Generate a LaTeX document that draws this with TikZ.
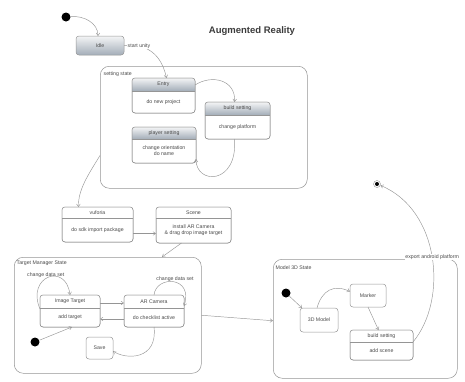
\documentclass[tikz,border=0pt]{standalone}
\usepackage{fontspec}
\setmainfont{Liberation Sans}
\usetikzlibrary{arrows.meta,calc}

\definecolor{edge}{HTML}{959595}
\definecolor{ink}{HTML}{4A4A4A}
\definecolor{hdtop}{HTML}{F4F5F6}
\definecolor{hdbot}{HTML}{A3ADB8}

\tikzset{
  x=1pt, y=-1pt,
  lbl/.style={font=\fontsize{5.2}{6}\selectfont, text=ink, inner sep=0.5pt},
  frame/.style={draw=edge, line width=0.5pt, rounded corners=9pt},
  stbox/.style={draw=edge, line width=0.5pt, rounded corners=3pt, inner sep=0pt, outer sep=0pt},
  arr/.style={draw=edge, line width=0.45pt, -{Straight Barb[length=2.6pt,width=3.6pt]}},
  plain/.style={draw=edge, line width=0.45pt},
  initst/.style={circle, fill=black, minimum size=9pt, inner sep=0pt},
  finalst/.style={circle, draw=edge, fill=white, minimum size=7pt, inner sep=0pt,
    path picture={\fill[black] (path picture bounding box.center) circle (2pt);}},
  hdshade/.style={top color=hdtop, bottom color=hdbot},
  hdplain/.style={fill=white},
}

% state box with a header compartment:
% #1 name, #2 left, #3 top, #4 width, #5 height, #6 header height,
% #7 header text, #8 body text, #9 header fill style
\newcommand{\compbox}[9]{%
  \node[stbox, minimum width=#4pt, minimum height=#5pt, anchor=north west, fill=white] (#1) at (#2,#3) {};
  \begin{scope}
    \clip[rounded corners=3pt] (#1.north west) rectangle (#1.south east);
    \path[#9] (#1.north west) rectangle ([yshift=-#6pt]#1.north east);
  \end{scope}
  \draw[plain] ([yshift=-#6pt]#1.north west) -- ([yshift=-#6pt]#1.north east);
  \draw[stbox] (#1.north west) rectangle (#1.south east);
  \node[lbl] (#1-head) at ([yshift=-#6pt/2]#1.north) {#7};
  \node[lbl, align=center] (#1-body) at ($([yshift=-#6pt]#1.north)!0.5!(#1.south)$) {#8};
}

\begin{document}
\begin{tikzpicture}
\useasboundingbox (0,0) rectangle (465,381);

% title
\node[font=\bfseries\fontsize{9.5}{11}\selectfont, text=ink!80!black] (title) at (252,31) {Augmented Reality};

% start and idle
\node[initst] (init1) at (66,17) {};
\node[stbox, rounded corners=3pt, minimum width=48pt, minimum height=19pt, anchor=north west,
      top color=hdtop, bottom color=hdbot] (idle) at (76,36) {};
\node[lbl] at (idle.center) {Idle};
\draw[arr] (init1) to[out=5,in=90] ([xshift=-2pt]idle.north);

% setting state
\node[frame, minimum width=207pt, minimum height=122pt, anchor=north west, inner sep=0pt] (setting) at (100,66) {};
\node[lbl, anchor=west] (settinglbl) at (103,74) {setting state};
\compbox{entry}{132}{78}{63}{35}{13}{Entry}{do new project}{hdshade}
\compbox{build}{205}{102}{65}{37}{13}{build setting}{change platform}{hdshade}
\compbox{player}{132}{127}{64}{36}{12}{player setting}{change orientation\\do name}{hdshade}

\draw[arr] (idle.east) .. controls (140,44) and (160,48) .. ([xshift=3pt]entry.north)
  node[lbl, fill=white, pos=0.3] {start unity};
\draw[arr] ([yshift=-7pt]entry.north east) .. controls (212,74) and (236,80) .. ([xshift=-3pt]build.north);
\draw[arr] ([xshift=-3pt]build.south) .. controls (238,185) and (196,185) .. ([yshift=4pt]player.south east);

% vuforia and scene
\compbox{vuforia}{62}{207}{71}{35}{11}{vuforia}{do sdk import package}{hdplain}
\compbox{scene}{156}{207}{75}{36}{11}{Scene}{install AR Camera\\\& drag drop image target}{hdplain}
\draw[arr] ([yshift=33pt]setting.south west) .. controls (88,175) and (78,190) .. ([xshift=-19pt]vuforia.north);
\draw[arr] ([yshift=-9pt]vuforia.east) -- ([yshift=-9pt]vuforia.east -| scene.west);

% target manager state
\node[frame, minimum width=187pt, minimum height=116pt, anchor=north west, inner sep=0pt] (tm) at (14,257) {};
\node[lbl, anchor=west] (tmlbl) at (16,263) {Target Manager State};
\draw[arr] ([xshift=-12pt]scene.south) -- ([xshift=148pt]tm.north west);
\compbox{imgt}{40}{295}{60}{32}{13}{Image Target}{add target}{hdplain}
\compbox{arcam}{124}{295}{60}{32}{13}{AR Camera}{do checklist active}{hdplain}
\draw[arr] ([yshift=-8pt]imgt.north east) -- ([yshift=-8pt]imgt.north east -| arcam.west);
\draw[arr] ([yshift=-24pt]arcam.north west) -- ([yshift=-24pt]arcam.north west -| imgt.east);
\draw[arr] ([yshift=-14pt]imgt.north west) .. controls (26,276) and (66,262) .. (imgt.north)
  node[lbl, pos=0.45, above] {change data set};
\draw[arr] (arcam.north) .. controls (156,275) and (194,276) .. ([yshift=-11pt]arcam.north east);
\node[lbl] (arloop) at (175,279) {change data set};
\node[initst] (init2) at (35,342) {};
\draw[arr] (init2) -- ([xshift=2pt]imgt.south);
\node[stbox, minimum width=27pt, minimum height=22pt, anchor=north west] (save) at (86,337) {};
\node[lbl] at (save.center) {Save};
\draw[arr] (arcam.south) .. controls (158,360) and (126,360) .. ([yshift=-3pt]save.east);

% model 3D state
\node[frame, minimum width=184pt, minimum height=119pt, anchor=north west, inner sep=0pt] (m3) at (273,259) {};
\node[lbl, anchor=west] (m3lbl) at (275,268) {Model 3D State};
\draw[arr] (tm.east) -- ([yshift=-2pt]m3.west);
\node[initst] (init3) at (286,293) {};
\node[stbox, minimum width=38pt, minimum height=24pt, anchor=north west] (model) at (300,308) {};
\node[lbl] at (model.center) {3D Model};
\node[stbox, minimum width=36pt, minimum height=23pt, anchor=north west] (marker) at (350,284) {};
\node[lbl] at (marker.center) {Marker};
\compbox{build2}{350}{330}{63}{30}{12}{build setting}{add scene}{hdplain}
\draw[arr] (init3) -- ([xshift=2pt]model.north west);
\draw[arr] ([xshift=-2pt]model.north) .. controls (322,290) and (334,284) .. ([yshift=4pt]marker.west);
\draw[arr] (marker.south) -- ([xshift=-3pt]build2.north);

% final state
\node[finalst] (final) at (377,184) {};
\draw[arr] ([yshift=-12pt]build2.north east) .. controls (448,300) and (440,210) .. (final)
  node[lbl, fill=white, pos=0.5] {export android platform};
\end{tikzpicture}
\end{document}
